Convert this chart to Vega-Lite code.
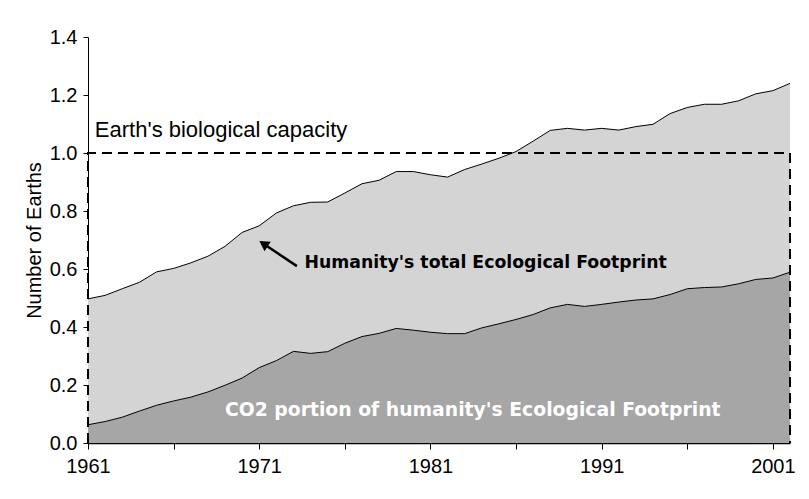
{
  "$schema": "https://vega.github.io/schema/vega-lite/v6.json",
  "autosize": "none",
  "width": 702,
  "height": 406,
  "padding": {"left": 88, "top": 37, "right": 19, "bottom": 56},
  "background": "white",
  "config": {
    "view": {"stroke": null},
    "font": "Liberation Sans",
    "axis": {"labelFont": "Liberation Sans", "titleFont": "Liberation Sans", "labelColor": "black", "titleColor": "black", "domainColor": "black", "tickColor": "black", "grid": false}
  },
  "datasets": {
    "fp": [
      {"year": 1961, "total": 0.497, "co2": 0.063},
      {"year": 1962, "total": 0.509, "co2": 0.074},
      {"year": 1963, "total": 0.532, "co2": 0.089},
      {"year": 1964, "total": 0.554, "co2": 0.110},
      {"year": 1965, "total": 0.590, "co2": 0.130},
      {"year": 1966, "total": 0.602, "co2": 0.145},
      {"year": 1967, "total": 0.621, "co2": 0.158},
      {"year": 1968, "total": 0.644, "co2": 0.176},
      {"year": 1969, "total": 0.678, "co2": 0.199},
      {"year": 1970, "total": 0.726, "co2": 0.224},
      {"year": 1971, "total": 0.749, "co2": 0.260},
      {"year": 1972, "total": 0.793, "co2": 0.284},
      {"year": 1973, "total": 0.818, "co2": 0.316},
      {"year": 1974, "total": 0.830, "co2": 0.309},
      {"year": 1975, "total": 0.831, "co2": 0.315},
      {"year": 1976, "total": 0.862, "co2": 0.344},
      {"year": 1977, "total": 0.894, "co2": 0.367},
      {"year": 1978, "total": 0.906, "co2": 0.378},
      {"year": 1979, "total": 0.936, "co2": 0.395},
      {"year": 1980, "total": 0.936, "co2": 0.389},
      {"year": 1981, "total": 0.925, "co2": 0.382},
      {"year": 1982, "total": 0.917, "co2": 0.377},
      {"year": 1983, "total": 0.943, "co2": 0.377},
      {"year": 1984, "total": 0.962, "co2": 0.397},
      {"year": 1985, "total": 0.982, "co2": 0.411},
      {"year": 1986, "total": 1.005, "co2": 0.426},
      {"year": 1987, "total": 1.041, "co2": 0.443},
      {"year": 1988, "total": 1.078, "co2": 0.466},
      {"year": 1989, "total": 1.085, "co2": 0.478},
      {"year": 1990, "total": 1.079, "co2": 0.471},
      {"year": 1991, "total": 1.085, "co2": 0.478},
      {"year": 1992, "total": 1.079, "co2": 0.486},
      {"year": 1993, "total": 1.091, "co2": 0.493},
      {"year": 1994, "total": 1.099, "co2": 0.497},
      {"year": 1995, "total": 1.136, "co2": 0.512},
      {"year": 1996, "total": 1.157, "co2": 0.532},
      {"year": 1997, "total": 1.168, "co2": 0.536},
      {"year": 1998, "total": 1.168, "co2": 0.538},
      {"year": 1999, "total": 1.180, "co2": 0.549},
      {"year": 2000, "total": 1.204, "co2": 0.564},
      {"year": 2001, "total": 1.215, "co2": 0.569},
      {"year": 2002, "total": 1.240, "co2": 0.589}
    ],
    "bio": [
      {"year": 1961, "value": 0, "ord": 1},
      {"year": 1961, "value": 1.0, "ord": 2},
      {"year": 2002, "value": 1.0, "ord": 3},
      {"year": 2002, "value": 0, "ord": 4}
    ],
    "notes": [
      {"year": 1961.4, "value": 1.08, "label": "Earth's biological capacity", "kind": "bio"},
      {"year": 1973.65, "value": 0.62, "label": "Humanity's total Ecological Footprint", "kind": "total"},
      {"year": 1969.0, "value": 0.114, "label": "CO2 portion of humanity's Ecological Footprint", "kind": "co2"}
    ],
    "arrow": [
      {"year": 1973.2, "value": 0.61, "year2": 1971.25, "value2": 0.687}
    ]
  },
  "encoding": {
    "x": {"field": "year", "type": "quantitative", "scale": {"domain": [1961, 2002], "nice": false, "zero": false},
      "axis": {"title": null, "values": [1961, 1966, 1971, 1976, 1981, 1986, 1991, 1996, 2001], "labelExpr": "(datum.value - 1961) % 10 == 0 ? datum.value : ''", "labelFontSize": 20, "labelPadding": 7, "tickSize": 6, "domainWidth": 1.5, "labelFlush": false}}
  },
  "layer": [
    {
      "data": {"name": "fp"},
      "mark": {"type": "area", "color": "#d4d4d4", "opacity": 1, "line": {"color": "black", "strokeWidth": 1}},
      "encoding": {
        "y": {"field": "total", "type": "quantitative", "scale": {"domain": [0, 1.4], "nice": false},
          "axis": {"title": "Number of Earths", "titleFontSize": 20, "titleFontWeight": "normal", "titlePadding": 5, "values": [0, 0.2, 0.4, 0.6, 0.8, 1.0, 1.2, 1.4], "format": ".1f", "labelFontSize": 20, "labelPadding": 6, "tickSize": 5}}
      }
    },
    {
      "data": {"name": "fp"},
      "mark": {"type": "area", "color": "#a6a6a6", "opacity": 1, "line": {"color": "black", "strokeWidth": 1}},
      "encoding": {"y": {"field": "co2", "type": "quantitative"}}
    },
    {
      "data": {"name": "bio"},
      "mark": {"type": "line", "color": "black", "strokeWidth": 2, "strokeDash": [10, 6]},
      "encoding": {"y": {"field": "value", "type": "quantitative"}, "order": {"field": "ord"}}
    },
    {
      "data": {"name": "arrow"},
      "mark": {"type": "rule", "color": "black", "strokeWidth": 2.5},
      "encoding": {"y": {"field": "value", "type": "quantitative"}, "x2": {"field": "year2"}, "y2": {"field": "value2"}}
    },
    {
      "data": {"name": "arrow"},
      "mark": {"type": "point", "shape": "triangle-up", "filled": true, "color": "black", "size": 130, "angle": 303, "opacity": 1},
      "encoding": {"x": {"field": "year2", "type": "quantitative"}, "y": {"field": "value2", "type": "quantitative"}}
    },
    {
      "data": {"name": "notes"},
      "transform": [{"filter": "datum.kind == 'bio'"}],
      "mark": {"type": "text", "align": "left", "baseline": "middle", "font": "Liberation Sans", "fontSize": 22, "color": "black"},
      "encoding": {"y": {"field": "value", "type": "quantitative"}, "text": {"field": "label"}}
    },
    {
      "data": {"name": "notes"},
      "transform": [{"filter": "datum.kind == 'total'"}],
      "mark": {"type": "text", "align": "left", "baseline": "middle", "font": "DejaVu Sans", "fontWeight": "bold", "fontSize": 17.3, "color": "black"},
      "encoding": {"y": {"field": "value", "type": "quantitative"}, "text": {"field": "label"}}
    },
    {
      "data": {"name": "notes"},
      "transform": [{"filter": "datum.kind == 'co2'"}],
      "mark": {"type": "text", "align": "left", "baseline": "middle", "font": "DejaVu Sans", "fontWeight": "bold", "fontSize": 18.8, "color": "white"},
      "encoding": {"y": {"field": "value", "type": "quantitative"}, "text": {"field": "label"}}
    }
  ]
}
